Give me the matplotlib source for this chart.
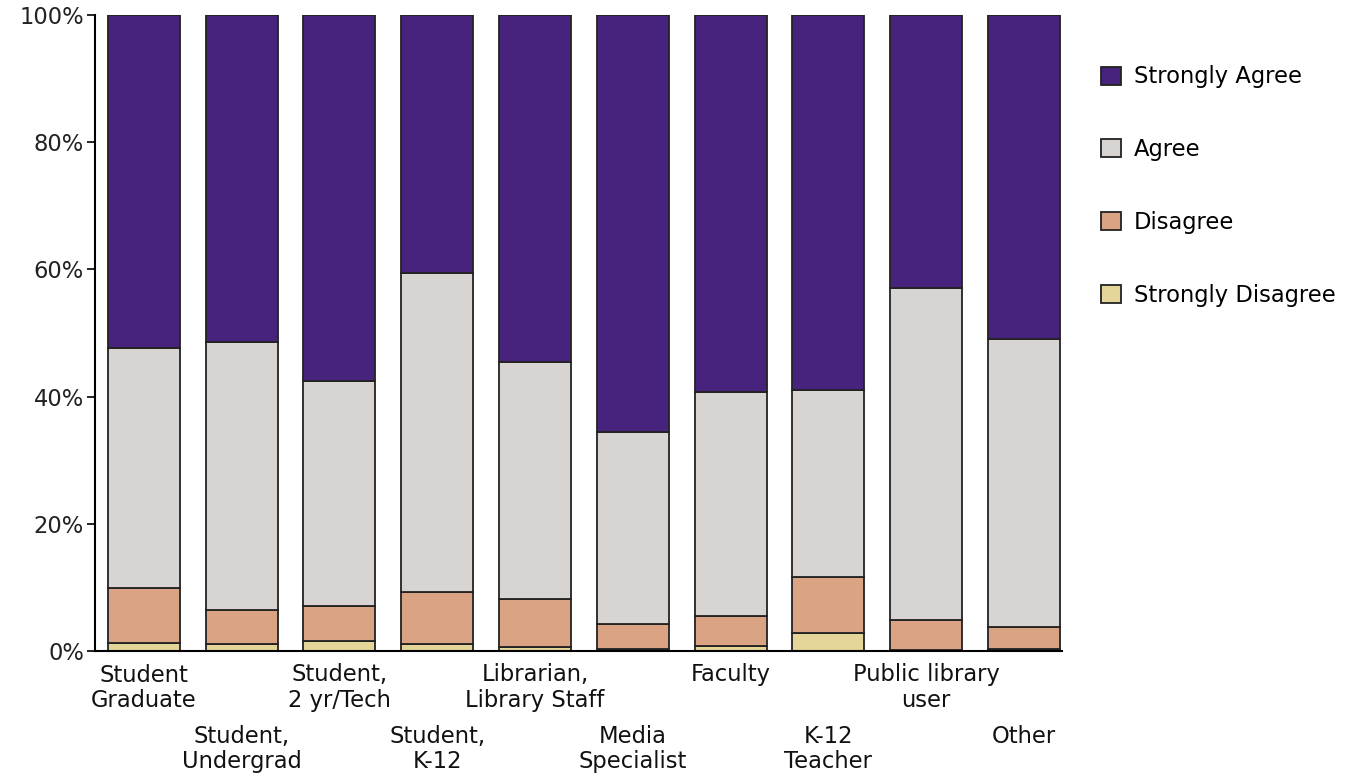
import matplotlib
matplotlib.use("Agg")
import matplotlib.pyplot as plt
import numpy as np
from matplotlib.patches import Patch

plt.rcParams['font.family'] = ['DejaVu Sans']

categories = ["Student\nGraduate", "Student,\nUndergrad", "Student,\n2 yr/Tech", "Student,\nK-12",
              "Librarian,\nLibrary Staff", "Media\nSpecialist", "Faculty", "K-12\nTeacher",
              "Public library\nuser", "Other"]
# cumulative boundaries (percent)
strongly_disagree = [1.3, 1.1, 1.5, 1.1, 0.6, 0.3, 0.8, 2.8, 0.2, 0.3]
disagree_top = [9.9, 6.4, 7.0, 9.3, 8.2, 4.3, 5.5, 11.7, 4.8, 3.8]
agree_top = [47.6, 48.6, 42.4, 59.5, 45.4, 34.5, 40.8, 41.0, 57.1, 49.0]

sd = np.array(strongly_disagree)
d = np.array(disagree_top) - sd
a = np.array(agree_top) - np.array(disagree_top)
sa = 100 - np.array(agree_top)

series = [("Strongly Disagree", sd, "#e6d598"), ("Disagree", d, "#d9a384"),
          ("Agree", a, "#d8d4d2"), ("Strongly Agree", sa, "#47237e")]

FS = 16.3
fig = plt.figure(figsize=(13.49, 7.8), dpi=100)
ax = fig.add_axes([95/1349, 129/780, (1062-95)/1349, (651-15)/780])
x = np.arange(len(categories))
bottom = np.zeros(len(categories))
for name, vals, col in series:
    ax.bar(x, vals, bottom=bottom, width=0.736, color=col, edgecolor="#222222", linewidth=1.3)
    bottom += vals

ax.set_xlim(-0.5, 9.39)
ax.set_ylim(0, 100)
ax.set_yticks([0, 20, 40, 60, 80, 100])
ax.set_yticklabels(["0%", "20%", "40%", "60%", "80%", "100%"], fontsize=FS, color="#222222")
ax.tick_params(axis='y', length=6, width=1.2, pad=2)
ax.set_xticks(x)
ax.set_xticklabels(categories, fontsize=FS, color="#111111", linespacing=1.12)
ax.tick_params(axis='x', length=0)
for i, t in enumerate(ax.xaxis.get_major_ticks()):
    t.set_pad(9 if i % 2 == 0 else 53)
for s in ["top", "right"]:
    ax.spines[s].set_visible(False)
ax.spines["left"].set_linewidth(1.5)
ax.spines["bottom"].set_linewidth(1.5)

handles = [Patch(facecolor=col, edgecolor="#222222", linewidth=1.3, label=name)
           for name, vals, col in reversed(series)]
fig.legend(handles=handles, loc="upper left", bbox_to_anchor=(1081/1349, 1 - 45/780),
           frameon=False, fontsize=FS, labelspacing=2.2, handlelength=0.85, handleheight=0.85,
           handletextpad=0.6)

fig.savefig("out.png", dpi=100)
